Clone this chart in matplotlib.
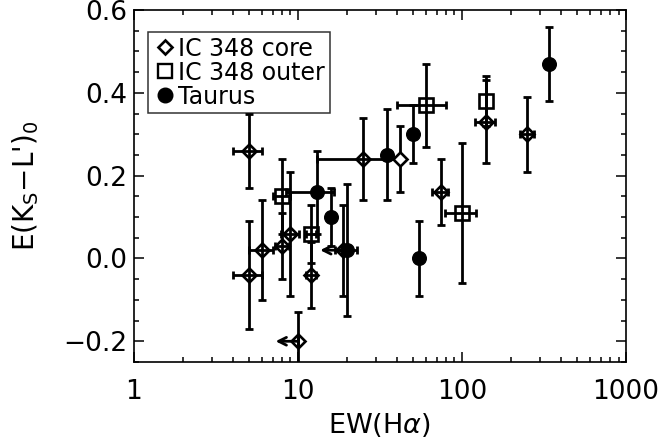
import matplotlib
matplotlib.use('Agg')
import matplotlib.pyplot as plt
from matplotlib.lines import Line2D
from matplotlib.ticker import MultipleLocator, LogLocator, FuncFormatter, NullFormatter
import numpy as np

plt.rcParams['font.family'] = ['DejaVu Sans']
plt.rcParams['mathtext.fontset'] = 'dejavusans'

# IC 348 core (open diamonds)
core_x    = [5.0, 5.0, 6.0, 8.0, 9.0, 12.0, 10.0, 18.7, 25.0, 42.0, 74.0, 140.0, 250.0]
core_y    = [0.26, -0.04, 0.02, 0.03, 0.06, -0.04, -0.20, 0.02, 0.24, 0.24, 0.16, 0.33, 0.30]
core_xlo  = [1.0, 1.0, 1.0, 0.8, 1.1, 0.8, 0.0, 0.0, 12.0, 0.0, 8.0, 20.0, 25.0]
core_xhi  = [1.0, 1.0, 1.0, 0.8, 1.1, 0.8, 0.0, 0.0, 15.0, 0.0, 8.0, 20.0, 25.0]
core_yerr = [0.09, 0.13, 0.12, 0.08, 0.15, 0.08, 0.07, 0.11, 0.10, 0.08, 0.08, 0.10, 0.09]
core_uplim = [False, False, False, False, False, False, True, True, False, False, False, False, False]
core_plain = [False, False, False, False, False, False, False, False, False, True, False, False, False]

# IC 348 outer (open squares)
outer_x    = [8.0, 12.0, 60.0, 100.0, 140.0]
outer_y    = [0.15, 0.06, 0.37, 0.11, 0.38]
outer_xerr = [1.0, 0.8, 20.0, 21.0, 0.0]
outer_yerr = [0.09, 0.07, 0.10, 0.17, 0.06]

# Taurus (filled circles)
taurus_x    = [13.0, 16.0, 19.8, 35.0, 50.0, 55.0, 340.0]
taurus_y    = [0.16, 0.10, 0.02, 0.25, 0.30, 0.00, 0.47]
taurus_xlo  = [4.5, 0.0, 3.0, 0.0, 0.0, 0.0, 0.0]
taurus_xhi  = [3.5, 0.0, 3.0, 0.0, 0.0, 0.0, 0.0]
taurus_yerr = [0.10, 0.07, 0.16, 0.11, 0.07, 0.09, 0.09]

limit_factor = 0.73

fig = plt.figure(figsize=(6.63, 4.47), dpi=100)
ax = fig.add_axes([0.2021, 0.1902, 0.7421, 0.7874])

elw = 2.0
cap = 2.6
ekw = dict(fmt='none', ecolor='black', elinewidth=elw, capsize=cap, capthick=elw, zorder=2)

# error bars
ax.errorbar(core_x, core_y, xerr=[core_xlo, core_xhi], yerr=core_yerr, **ekw)
ax.errorbar(outer_x, outer_y, xerr=outer_xerr, yerr=outer_yerr, **ekw)
ax.errorbar(taurus_x, taurus_y, xerr=[taurus_xlo, taurus_xhi], yerr=taurus_yerr, **ekw)

# markers
for x, y, plain in zip(core_x, core_y, core_plain):
    ax.plot([x], [y], 'D', ms=7.4, mfc='white' if plain else 'none', mec='black', mew=1.9, zorder=3)
ax.plot(outer_x, outer_y, 's', ms=10.5, mfc='none', mec='black', mew=1.9, zorder=3)
ax.plot(taurus_x, taurus_y, 'o', ms=9.8, mfc='black', mec='black', zorder=3)

# upper-limit arrows
for x, y, lim in zip(core_x, core_y, core_uplim):
    if lim:
        ax.annotate('', xy=(x * limit_factor, y), xytext=(x, y),
                    arrowprops=dict(arrowstyle='->', lw=2.0, color='black',
                                    shrinkA=0, shrinkB=0, mutation_scale=14),
                    zorder=2)

ax.set_xscale('log')
ax.set_xlim(1, 1000)
ax.set_ylim(-0.25, 0.6)

ax.xaxis.set_major_locator(LogLocator(base=10, numticks=10))
ax.xaxis.set_minor_locator(LogLocator(base=10, subs=np.arange(2, 10), numticks=10))
ax.xaxis.set_major_formatter(FuncFormatter(lambda v, p: f"{v:g}"))
ax.xaxis.set_minor_formatter(NullFormatter())
ax.yaxis.set_major_locator(MultipleLocator(0.2))
ax.yaxis.set_minor_locator(MultipleLocator(0.05))
ax.yaxis.set_major_formatter(FuncFormatter(lambda v, p: f"{v:.1f}".replace('-', '\u2212') if abs(v) > 1e-9 else "0.0"))

ax.tick_params(which='both', direction='in', top=True, right=True, width=1.1, labelsize=19)
ax.tick_params(axis='x', which='major', pad=12)
ax.tick_params(axis='y', which='major', pad=5)
ax.tick_params(which='major', length=7)
ax.tick_params(which='minor', length=3.5)
for s in ax.spines.values():
    s.set_linewidth(1.2)

ax.set_xlabel(r'EW(H$\alpha$)', fontsize=19.5)
ax.xaxis.set_label_coords(0.5, -0.14)
ax.set_ylabel(r"E(K$_\mathrm{S}$$-$L')$_0$", fontsize=20)
ax.yaxis.set_label_coords(-0.19, 0.5)

handles = [
    Line2D([], [], ls='none', marker='D', ms=7.0, mfc='none', mec='black', mew=1.9),
    Line2D([], [], ls='none', marker='s', ms=10.0, mfc='none', mec='black', mew=1.7),
    Line2D([], [], ls='none', marker='o', ms=10.5, mfc='black', mec='black'),
]
labels = ['IC 348 core', 'IC 348 outer', 'Taurus']
leg = ax.legend(handles, labels, loc='upper left', bbox_to_anchor=(0.028, 0.9375),
                borderaxespad=0, fontsize=17, handlelength=1.1, handletextpad=0.0,
                borderpad=0.2, labelspacing=0.0, frameon=True, fancybox=False)
leg.get_frame().set_edgecolor('black')
leg.get_frame().set_linewidth(1.1)

fig.savefig('out.png', dpi=100)
